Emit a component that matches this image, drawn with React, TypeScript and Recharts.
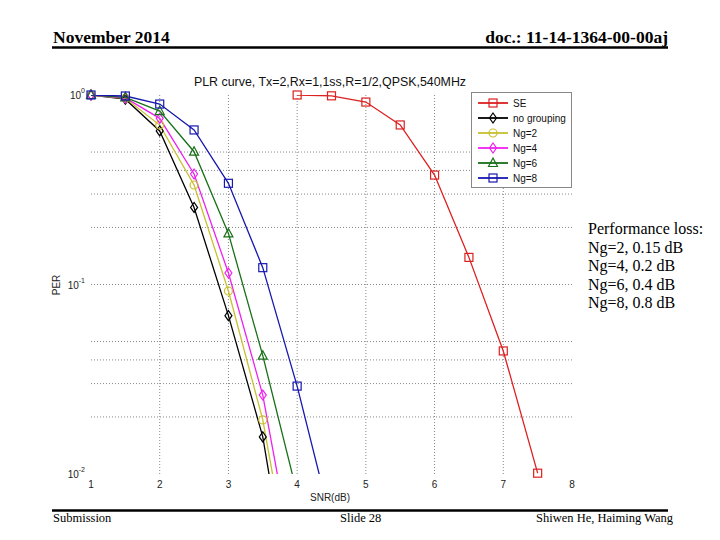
import React from 'react';
import { LineChart, Line, XAxis, YAxis, ReferenceLine, Legend } from 'recharts';

// ---- data ----
const snr = [1, 1.5, 2, 2.5, 3, 3.5, 4, 4.5, 5, 5.5, 6, 6.5, 7, 7.5];
const seValues = [null, null, null, null, null, null, 1.0, 0.99, 0.918, 0.695, 0.378, 0.139, 0.0446, 0.0101];
const noGroupingValues = [1.0, 0.95, 0.646, 0.255, 0.0685, 0.0157, 0.0013, null, null, null, null, null, null, null];
const ng2Values = [1.0, 0.96, 0.694, 0.335, 0.0924, 0.0193, 0.0019, null, null, null, null, null, null, null];
const ng4Values = [1.0, 0.965, 0.753, 0.383, 0.115, 0.0261, 0.0027, null, null, null, null, null, null, null];
const ng6Values = [1.0, 0.972, 0.823, 0.502, 0.186, 0.0421, 0.0079, null, null, null, null, null, null, null];
const ng8Values = [1.0, 0.988, 0.896, 0.654, 0.342, 0.1227, 0.0291, 0.0055, null, null, null, null, null, null];

const seriesNames = ['SE', 'no grouping', 'Ng=2', 'Ng=4', 'Ng=6', 'Ng=8'];
const xTicks = [1, 2, 3, 4, 5, 6, 7, 8];
const yTicks = [0.01, 0.1, 1];
const yTickExponents = ['-2', '-1', '0'];
const hGridValues = [0.5, 0.4, 0.3, 0.2, 0.1, 0.05, 0.04, 0.03, 0.02];
const vGridValues = [2, 3, 4, 5, 6, 7];

const chartTitle = 'PLR curve, Tx=2,Rx=1,1ss,R=1/2,QPSK,540MHz';
const xLabel = 'SNR(dB)';
const yLabel = 'PER';
const headerLeft = 'November 2014';
const headerRight = 'doc.: 11-14-1364-00-00aj';
const footerLeft = 'Submission';
const footerCenter = 'Slide 28';
const footerRight = 'Shiwen He, Haiming Wang';
const noteLines = ['Performance loss:', 'Ng=2, 0.15 dB', 'Ng=4, 0.2 dB', 'Ng=6, 0.4 dB', 'Ng=8, 0.8 dB'];

const seriesValues = [seValues, noGroupingValues, ng2Values, ng4Values, ng6Values, ng8Values];
const seriesKeys = ['se', 'noGrouping', 'ng2', 'ng4', 'ng6', 'ng8'];
const seriesColors = ['#dd2020', '#000000', '#c8c030', '#ee22ee', '#187018', '#1818b0'];
const seriesMarkers = ['square', 'diamond', 'circle', 'diamond', 'triangle', 'square'];

const Y_MIN = 0.01;
const Y_MAX = 1;

const tableData = snr.map((s, i) => {
  const row: any = { snr: s };
  seriesKeys.forEach((k, j) => {
    row[k] = seriesValues[j][i];
  });
  return row;
});

const Marker = ({ shape, cx, cy, color }: any) => {
  const common = { fill: 'none', stroke: color, strokeWidth: 1.2 };
  if (shape === 'square') return <rect x={cx - 4} y={cy - 4} width={8} height={8} {...common} />;
  if (shape === 'circle') return <circle cx={cx} cy={cy} r={4} {...common} />;
  if (shape === 'diamond')
    return <polygon points={`${cx},${cy - 5} ${cx + 3.5},${cy} ${cx},${cy + 5} ${cx - 3.5},${cy}`} {...common} />;
  return <polygon points={`${cx},${cy - 5} ${cx + 4.5},${cy + 3.5} ${cx - 4.5},${cy + 3.5}`} {...common} />;
};

const makeDot = (shape: string, color: string) => (props: any) => {
  const { cx, cy, value, index } = props;
  const v = Array.isArray(value) ? value[1] : value;
  if (v == null || cx == null || cy == null || Number.isNaN(cy)) return <g key={`e-${index}`} />;
  return (
    <g key={`d-${index}`}>
      <Marker shape={shape} cx={cx} cy={cy} color={color} />
    </g>
  );
};

const YTick = (props: any) => {
  const { x, y, payload } = props;
  const idx = yTicks.indexOf(payload.value);
  return (
    <text x={x} y={y + 4} textAnchor="end" fontFamily="Liberation Sans, Arial" fontSize={10} fill="#222">
      <tspan>10</tspan>
      <tspan dy={-6} fontSize={7}>{yTickExponents[idx]}</tspan>
    </text>
  );
};

const LegendContent = () => (
  <div style={{ border: '1px solid #888', background: '#fff', width: 101, height: 96, boxSizing: 'border-box' }}>
    <svg width={99} height={94}>
      {seriesNames.map((n, i) => (
        <g key={n}>
          <line x1={6} x2={36} y1={10 + i * 15} y2={10 + i * 15} stroke={seriesColors[i]} strokeWidth={1.8} />
          <Marker shape={seriesMarkers[i]} cx={21} cy={10 + i * 15} color={seriesColors[i]} />
          <text x={41} y={14 + i * 15} fontFamily="Liberation Sans, Arial" fontSize={10} fill="#111">
            {n}
          </text>
        </g>
      ))}
    </svg>
  </div>
);

export default function App() {
  const serif = 'Liberation Serif, Times New Roman, serif';
  const sans = 'Liberation Sans, Arial, sans-serif';
  return (
    <div style={{ position: 'absolute', left: 0, top: 0, width: 720, height: 540, background: '#fff', overflow: 'hidden' }}>
      <LineChart
        width={720}
        height={540}
        data={tableData}
        margin={{ top: 95, right: 148, bottom: 30, left: 31 }}
      >
        <XAxis
          dataKey="snr"
          type="number"
          domain={[1, 8]}
          ticks={xTicks}
          height={36}
          axisLine={false}
          tickLine={false}
          tickSize={0}
          tickMargin={7}
          tick={{ fontFamily: sans, fontSize: 10, fill: '#222' }}
        />
        <YAxis
          yAxisId="main"
          type="number"
          scale="log"
          domain={[Y_MIN, Y_MAX]}
          ticks={yTicks}
          width={60}
          axisLine={false}
          tickLine={false}
          tickSize={0}
          tickMargin={6}
          tick={<YTick />}
          allowDataOverflow
        />
        <YAxis yAxisId="markers" type="number" scale="log" domain={[Y_MIN, Y_MAX]} hide />
        {hGridValues.map((v) => (
          <ReferenceLine key={`h${v}`} yAxisId="main" y={v} stroke="#888" strokeDasharray="1 2" strokeWidth={1} />
        ))}
        {vGridValues.map((v) => (
          <ReferenceLine key={`v${v}`} yAxisId="main" x={v} stroke="#888" strokeDasharray="1 2" strokeWidth={1} />
        ))}
        <Legend
          layout="vertical"
          align="center"
          verticalAlign="middle"
          content={<LegendContent />}
          wrapperStyle={{ left: 471, top: 92, width: 101, height: 96 }}
        />
        {seriesKeys.map((k, i) => (
          <Line
            key={k}
            yAxisId="main"
            dataKey={k}
            name={seriesNames[i]}
            type="linear"
            stroke={seriesColors[i]}
            strokeWidth={1.3}
            dot={false}
            activeDot={false}
            isAnimationActive={false}
            connectNulls={false}
          />
        ))}
        {seriesKeys.map((k, i) => (
          <Line
            key={`${k}-markers`}
            yAxisId="markers"
            dataKey={(row: any) => (row[k] != null && row[k] >= Y_MIN * 0.99 ? row[k] : null)}
            name={`${seriesNames[i]} markers`}
            type="linear"
            stroke="none"
            legendType="none"
            dot={makeDot(seriesMarkers[i], seriesColors[i])}
            activeDot={false}
            isAnimationActive={false}
            connectNulls={false}
          />
        ))}
      </LineChart>
      <svg width={720} height={540} style={{ position: 'absolute', left: 0, top: 0, pointerEvents: 'none' }}>
        <text x={53} y={43} fontFamily={serif} fontWeight="bold" fontSize={17.5} fill="#000">{headerLeft}</text>
        <text x={668} y={43} textAnchor="end" fontFamily={serif} fontWeight="bold" fontSize={17.5} fill="#000">{headerRight}</text>
        <line x1={52} x2={668} y1={47.5} y2={47.5} stroke="#000" strokeWidth={2.5} />
        <line x1={52} x2={668} y1={510.5} y2={510.5} stroke="#000" strokeWidth={2.5} />
        <text x={53} y={522} fontFamily={serif} fontSize={12.5} fill="#000">{footerLeft}</text>
        <text x={340} y={522} fontFamily={serif} fontSize={12.5} fill="#000">{footerCenter}</text>
        <text x={673} y={522} textAnchor="end" fontFamily={serif} fontSize={12.5} fill="#000">{footerRight}</text>
        <text x={330} y={86} textAnchor="middle" fontFamily={sans} fontSize={12.4} fill="#111">{chartTitle}</text>
        <text x={330} y={501} textAnchor="middle" fontFamily={sans} fontSize={10} fill="#222">{xLabel}</text>
        <text x={60} y={285} textAnchor="middle" fontFamily={sans} fontSize={10} fill="#222" transform="rotate(-90 60 285)">{yLabel}</text>
        {noteLines.map((t, i) => (
          <text key={t} x={588} y={234 + i * 18.5} fontFamily={serif} fontSize={16} fill="#000">{t}</text>
        ))}
      </svg>
    </div>
  );
}
